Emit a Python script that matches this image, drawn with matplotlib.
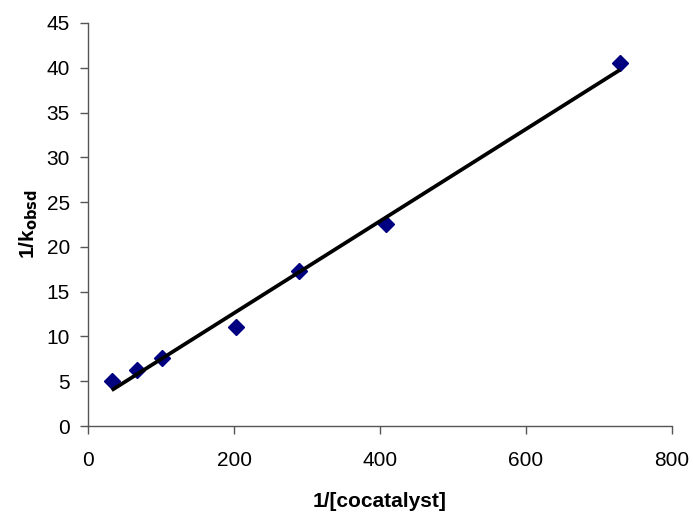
import numpy as np
import matplotlib
matplotlib.use("Agg")
import matplotlib.pyplot as plt

x_vals = [32.5, 67.6, 101.4, 202.8, 289.6, 408.4, 729.0]
y_vals = [5.06, 6.25, 7.56, 11.08, 17.33, 22.6, 40.5]
x_ticks = [0, 200, 400, 600, 800]
y_ticks = [0, 5, 10, 15, 20, 25, 30, 35, 40, 45]

plt.rcParams['font.family'] = ['Liberation Sans', 'DejaVu Sans']

fig = plt.figure(figsize=(6.93, 5.12), dpi=100)
ax = fig.add_axes([88/693, 86/512, (672-88)/693, (426-23)/512])

ax.plot(x_vals, y_vals, linestyle='none', marker='D', markersize=8.5,
        color='#000080', zorder=2, clip_on=False)

coef = np.polyfit(x_vals, y_vals, 1)
xs = np.array([min(x_vals), max(x_vals)])
ax.plot(xs, np.polyval(coef, xs), color='black', linewidth=2.7, zorder=3,
        solid_capstyle='butt')

ax.set_xlim(0, 800)
ax.set_ylim(0, 45)
ax.set_xticks(x_ticks)
ax.set_yticks(y_ticks)
ax.tick_params(axis='both', direction='out', length=6, width=1, color='#555555',
               labelsize=15)
ax.tick_params(axis='x', pad=12)
ax.tick_params(axis='y', pad=7)
for side in ['top', 'right']:
    ax.spines[side].set_visible(False)
for side in ['left', 'bottom']:
    ax.spines[side].set_color('#555555')
    ax.spines[side].set_linewidth(1)

ax.set_xlabel('1/[cocatalyst]', fontsize=15, fontweight='bold', labelpad=16)
ax.set_ylabel(r'1/k$_{\mathbf{obsd}}$', fontsize=15, fontweight='bold', labelpad=5)

fig.savefig('out.png', dpi=100)
